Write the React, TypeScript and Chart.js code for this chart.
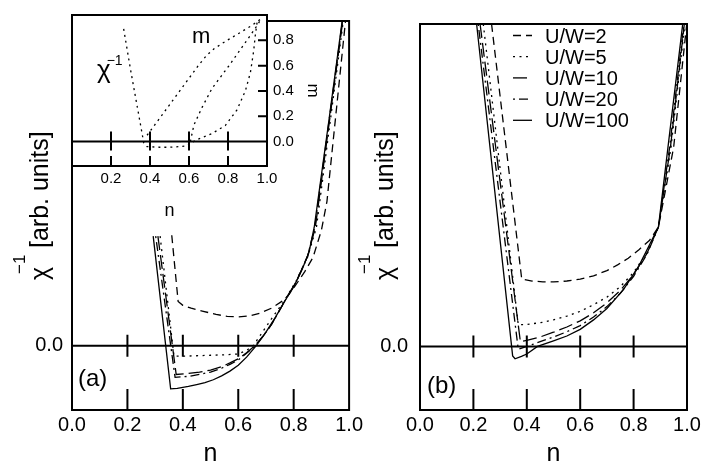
import React, { useEffect, useRef } from "react";
import { Chart, registerables } from "chart.js";

Chart.register(...registerables);

const FONT = "'Liberation Sans', Arial, Helvetica, sans-serif";

// ---------- labels / ticks ----------
const seriesLabels = ["U/W=2", "U/W=5", "U/W=10", "U/W=20", "U/W=100"];
const xTickValues = [0, 0.2, 0.4, 0.6, 0.8, 1.0];
const innerTickValues = [0.2, 0.4, 0.6, 0.8];
const yTickValues = [0];
const insetXTickValues = [0.2, 0.4, 0.6, 0.8, 1.0];
const insetMTickValues = [0, 0.2, 0.4, 0.6, 0.8];

// ---------- panel (a) ----------
const aU2n = [0.36, 0.383, 0.4, 0.43, 0.47, 0.52, 0.56, 0.6, 0.64, 0.68, 0.72, 0.767, 0.8, 0.84, 0.87, 0.9, 0.92, 0.987];
const aU2v = [1.15, 0.46, 0.42, 0.39, 0.36, 0.325, 0.305, 0.3, 0.31, 0.34, 0.39, 0.48, 0.6, 0.77, 0.92, 1.2, 1.5, 3.38];
const aU5n = [0.318, 0.368, 0.4, 0.45, 0.5, 0.55, 0.6, 0.63, 0.654, 0.68, 0.72, 0.767, 0.81, 0.85, 0.882, 0.979];
const aU5v = [1.14, -0.11, -0.11, -0.105, -0.1, -0.095, -0.087, -0.05, 0, 0.11, 0.28, 0.47, 0.68, 0.92, 1.23, 3.38];
const aU10n = [0.31, 0.376, 0.42, 0.46, 0.5, 0.54, 0.57, 0.6, 0.63, 0.66, 0.69, 0.72, 0.767, 0.81, 0.85, 0.878, 0.977];
const aU10v = [1.14, -0.3, -0.29, -0.275, -0.255, -0.22, -0.18, -0.137, -0.075, 0, 0.1, 0.22, 0.46, 0.67, 0.93, 1.23, 3.38];
const aU20n = [0.302, 0.372, 0.42, 0.46, 0.5, 0.54, 0.57, 0.6, 0.63, 0.662, 0.69, 0.72, 0.767, 0.81, 0.85, 0.876, 0.976];
const aU20v = [1.14, -0.33, -0.32, -0.3, -0.275, -0.235, -0.195, -0.15, -0.08, 0, 0.1, 0.22, 0.46, 0.67, 0.93, 1.23, 3.38];
const aU100n = [0.293, 0.356, 0.38, 0.42, 0.45, 0.48, 0.51, 0.54, 0.57, 0.6, 0.63, 0.665, 0.7, 0.735, 0.767, 0.8, 0.83, 0.855, 0.874, 0.925, 0.975];
const aU100v = [1.14, -0.45, -0.445, -0.425, -0.405, -0.385, -0.355, -0.315, -0.265, -0.205, -0.12, 0, 0.14, 0.3, 0.46, 0.61, 0.79, 0.97, 1.23, 2.3, 3.38];

// ---------- panel (b) ----------
const bU2n = [0.268, 0.381, 0.42, 0.46, 0.5, 0.55, 0.6, 0.65, 0.7, 0.74, 0.78, 0.82, 0.86, 0.893, 0.95, 0.999];
const bU2v = [3.4, 0.71, 0.69, 0.682, 0.68, 0.69, 0.71, 0.745, 0.8, 0.86, 0.93, 1.02, 1.12, 1.26, 2.1, 3.4];
const bU5n = [0.237, 0.368, 0.393, 0.45, 0.5, 0.55, 0.6, 0.65, 0.7, 0.75, 0.8, 0.85, 0.893, 0.94, 0.992];
const bU5v = [3.4, 0.23, 0.23, 0.25, 0.28, 0.32, 0.37, 0.44, 0.52, 0.63, 0.78, 0.99, 1.26, 2.1, 3.4];
const bU10n = [0.225, 0.376, 0.4, 0.45, 0.5, 0.55, 0.6, 0.65, 0.7, 0.75, 0.8, 0.85, 0.893, 0.938, 0.99];
const bU10v = [3.4, 0.05, 0.065, 0.1, 0.15, 0.205, 0.27, 0.355, 0.46, 0.59, 0.76, 0.98, 1.26, 2.1, 3.4];
const bU20n = [0.218, 0.368, 0.4, 0.45, 0.5, 0.55, 0.6, 0.65, 0.7, 0.75, 0.8, 0.85, 0.893, 0.935, 0.988];
const bU20v = [3.4, -0.03, 0.0, 0.05, 0.1, 0.155, 0.22, 0.31, 0.42, 0.56, 0.74, 0.97, 1.26, 2.1, 3.4];
const bU100n = [0.212, 0.347, 0.356, 0.38, 0.4, 0.44, 0.5, 0.55, 0.6, 0.65, 0.7, 0.762, 0.82, 0.875, 0.893, 0.93, 0.984];
const bU100v = [3.4, -0.1, -0.13, -0.105, -0.08, 0.0, 0.06, 0.11, 0.18, 0.28, 0.4, 0.6, 0.85, 1.16, 1.26, 2.13, 3.4];

// ---------- inset (U/W=5): chi^-1 and m ----------
const insChiN = [0.265, 0.3, 0.34, 0.368, 0.385, 0.45, 0.5, 0.55, 0.59, 0.612, 0.641, 0.718, 0.786, 0.846, 0.889, 0.915, 0.932, 0.94, 0.949];
const insChiV = [0.89, 0.57, 0.23, -0.01, -0.04, -0.045, -0.045, -0.04, -0.035, -0.01, 0.015, 0.064, 0.126, 0.25, 0.4, 0.546, 0.72, 0.84, 0.94];
const insMN = [0.385, 0.45, 0.5, 0.55, 0.6, 0.65, 0.69, 0.73, 0.78, 0.85, 0.92, 0.97];
const insMV = [0.05, 0.185, 0.29, 0.395, 0.5, 0.605, 0.68, 0.735, 0.785, 0.85, 0.915, 0.97];
const insM2N = [0.607, 0.625, 0.667, 0.718, 0.803, 0.906, 0.949, 0.972];
const insM2V = [0.0, 0.13, 0.27, 0.42, 0.595, 0.82, 0.916, 0.975];

// ---------- styles / layout ----------
const DASHES: number[][] = [[8, 5], [2, 4.5], [14, 5], [2, 4, 9, 4], []];
const LINE_W = 1.3;
const B_LEFT = 350;

const pts = (n: number[], v: number[]) => n.map((x, i) => ({ x, y: v[i] }));

function makeDatasets(ns: number[][], vs: number[][]) {
  return ns.map((n, i) => ({
    label: seriesLabels[i],
    data: pts(n, vs[i]),
    showLine: true,
    borderColor: "#000",
    backgroundColor: "#000",
    borderWidth: LINE_W,
    borderDash: DASHES[i],
    pointRadius: 0,
    fill: false,
    tension: 0,
  }));
}

function panelPlugin(cfg: {
  label: string; labelX: number; labelY: number; titleX: number; legendShift: number | null;
}) {
  return {
    id: "panelDecor",
    afterDatasetsDraw(chart: any) {
      const { ctx, chartArea: ca, scales } = chart;
      const xs = scales.x, ys = scales.y;
      const y0 = ys.getPixelForValue(0);
      ctx.save();
      ctx.strokeStyle = "#000";
      ctx.fillStyle = "#000";
      ctx.setLineDash([]);
      ctx.lineWidth = 2;
      ctx.beginPath();
      ctx.moveTo(ca.left, y0);
      ctx.lineTo(ca.right, y0);
      for (const v of innerTickValues) {
        const px = xs.getPixelForValue(v);
        ctx.moveTo(px, ca.bottom);
        ctx.lineTo(px, ca.bottom - 21);
        ctx.moveTo(px, y0 - 11);
        ctx.lineTo(px, y0 + 11);
      }
      ctx.stroke();
      ctx.strokeRect(ca.left, ca.top, ca.right - ca.left, ca.bottom - ca.top);

      // panel label
      ctx.font = `24px ${FONT}`;
      ctx.textBaseline = "middle";
      ctx.textAlign = "left";
      ctx.fillText(cfg.label, cfg.labelX, cfg.labelY);

      // y title  chi^-1 [arb. units]
      ctx.save();
      ctx.translate(cfg.titleX, 280);
      ctx.rotate(-Math.PI / 2);
      ctx.textBaseline = "alphabetic";
      ctx.font = `25px ${FONT}`;
      ctx.fillText("χ", 0, 0);
      ctx.font = `17px ${FONT}`;
      ctx.fillText("−1", 6, -23);
      ctx.font = `25px ${FONT}`;
      ctx.fillText("[arb. units]", 32, 0);
      ctx.restore();

      if (cfg.legendShift !== null) {
        const sh = cfg.legendShift;
        const x0 = 513 - sh, x1 = 532 - sh, tx = 545 - sh;
        chart.data.datasets.forEach((ds: any, i: number) => {
          const y = 37 + i * 21.2;
          ctx.lineWidth = LINE_W;
          ctx.setLineDash(ds.borderDash || []);
          ctx.beginPath();
          ctx.moveTo(x0, y - 1.5);
          ctx.lineTo(x1, y - 1.5);
          ctx.stroke();
          ctx.setLineDash([]);
          ctx.font = `20px ${FONT}`;
          ctx.textBaseline = "middle";
          ctx.fillText(ds.label, tx, y);
        });
      }
      ctx.restore();
    },
  };
}

function mainOptions(yMax: number, yWidth: number, yPad: number, padTop: number, padRight: number) {
  return {
    responsive: false,
    animation: false as const,
    events: [] as any[],
    layout: { padding: { left: 0, right: padRight, top: padTop, bottom: 0 } },
    plugins: { legend: { display: false }, tooltip: { enabled: false } },
    scales: {
      x: {
        type: "linear" as const,
        min: 0,
        max: 1,
        position: "bottom" as const,
        grid: { display: false, drawTicks: false },
        border: { display: false },
        afterBuildTicks: (s: any) => { s.ticks = xTickValues.map((v) => ({ value: v })); },
        ticks: {
          color: "#000",
          font: { family: FONT, size: 20 },
          padding: 3,
          maxRotation: 0,
          autoSkip: false,
          callback: (v: any) => Number(v).toFixed(1),
        },
        title: {
          display: true,
          text: "n",
          color: "#000",
          font: { family: FONT, size: 25, lineHeight: 0.8 },
          padding: { top: 0, bottom: 0 },
        },
        afterFit: (s: any) => { s.height = 54; },
      },
      y: {
        type: "linear" as const,
        min: -0.67,
        max: yMax,
        grid: { display: false, drawTicks: false },
        border: { display: false },
        afterBuildTicks: (s: any) => { s.ticks = yTickValues.map((v) => ({ value: v })); },
        ticks: {
          color: "#000",
          font: { family: FONT, size: 20 },
          padding: yPad,
          callback: (v: any) => Number(v).toFixed(1),
        },
        afterFit: (s: any) => { s.width = yWidth; },
      },
    },
  };
}

const insetPlugin = {
  id: "insetDecor",
  beforeDraw(chart: any) {
    const { ctx, chartArea: ca } = chart;
    ctx.save();
    ctx.fillStyle = "#fff";
    ctx.fillRect(ca.left, ca.top, ca.right - ca.left, ca.bottom - ca.top);
    ctx.restore();
  },
  afterDatasetsDraw(chart: any) {
    const { ctx, chartArea: ca, scales } = chart;
    const xs = scales.x, ys = scales.y;
    const y0 = ys.getPixelForValue(0);
    ctx.save();
    ctx.strokeStyle = "#000";
    ctx.fillStyle = "#000";
    ctx.setLineDash([]);
    ctx.lineWidth = 2;
    ctx.beginPath();
    ctx.moveTo(ca.left, y0);
    ctx.lineTo(ca.right, y0);
    for (const v of innerTickValues) {
      const px = xs.getPixelForValue(v);
      ctx.moveTo(px, ca.bottom);
      ctx.lineTo(px, ca.bottom - 10);
      ctx.moveTo(px, y0 - 10);
      ctx.lineTo(px, y0 + 9);
    }
    for (const m of insetMTickValues) {
      if (m === 0) continue;
      const py = ys.getPixelForValue(m);
      ctx.moveTo(ca.right, py);
      ctx.lineTo(ca.right - 9, py);
    }
    ctx.stroke();
    ctx.strokeRect(ca.left, ca.top, ca.right - ca.left, ca.bottom - ca.top);

    ctx.textAlign = "left";
    ctx.textBaseline = "alphabetic";
    ctx.font = `22px ${FONT}`;
    ctx.fillText("m", 192, 43);
    ctx.font = `26px ${FONT}`;
    ctx.fillText("χ", 97, 78);
    const w = ctx.measureText("χ").width;
    ctx.font = `14px ${FONT}`;
    ctx.fillText("−1", 97 + w - 4, 65);
    ctx.restore();
  },
};

export default function App() {
  const refA = useRef<HTMLCanvasElement>(null);
  const refB = useRef<HTMLCanvasElement>(null);
  const refI = useRef<HTMLCanvasElement>(null);

  useEffect(() => {
    const charts: Chart[] = [];
    if (refA.current) {
      charts.push(
        new Chart(refA.current, {
          type: "scatter",
          data: {
            datasets: makeDatasets(
              [aU2n, aU5n, aU10n, aU20n, aU100n],
              [aU2v, aU5v, aU10v, aU20v, aU100v]
            ) as any,
          },
          options: mainOptions(3.38, 72, 9, 5, 14) as any,
          plugins: [panelPlugin({ label: "(a)", labelX: 78, labelY: 379, titleX: 48, legendShift: null })],
        })
      );
    }
    if (refB.current) {
      charts.push(
        new Chart(refB.current, {
          type: "scatter",
          data: {
            datasets: makeDatasets(
              [bU2n, bU5n, bU10n, bU20n, bU100n],
              [bU2v, bU5v, bU10v, bU20v, bU100v]
            ) as any,
          },
          options: mainOptions(3.4, 420 - B_LEFT, 12, 3, 18) as any,
          plugins: [panelPlugin({ label: "(b)", labelX: 427 - B_LEFT, labelY: 386, titleX: 393 - B_LEFT, legendShift: B_LEFT })],
        })
      );
    }
    if (refI.current) {
      const dotted = (label: string, n: number[], v: number[]) => ({
        label,
        data: pts(n, v),
        showLine: true,
        borderColor: "#000",
        borderWidth: LINE_W,
        borderDash: [2, 4],
        pointRadius: 0,
        fill: false,
        tension: 0,
      });
      charts.push(
        new Chart(refI.current, {
          type: "scatter",
          data: {
            datasets: [
              dotted("χ⁻¹", insChiN, insChiV),
              dotted("m", insMN, insMV),
              dotted("m'", insM2N, insM2V),
            ] as any,
          },
          options: {
            responsive: false,
            animation: false,
            events: [],
            layout: { padding: { left: 72, right: 0, top: 5, bottom: 0 } },
            plugins: { legend: { display: false }, tooltip: { enabled: false } },
            scales: {
              x: {
                type: "linear",
                min: 0,
                max: 1,
                grid: { display: false, drawTicks: false },
                border: { display: false },
                afterBuildTicks: (s: any) => { s.ticks = insetXTickValues.map((v) => ({ value: v })); },
                ticks: {
                  color: "#000",
                  font: { family: FONT, size: 15 },
                  padding: 4,
                  maxRotation: 0,
                  autoSkip: false,
                  callback: (v: any) => Number(v).toFixed(1),
                },
                title: {
                  display: true,
                  text: "n",
                  color: "#000",
                  font: { family: FONT, size: 18, lineHeight: 1 },
                  padding: { top: 0, bottom: 5 },
                },
                afterFit: (s: any) => { s.height = 59; },
              },
              y: {
                type: "linear",
                position: "right",
                min: -0.193,
                max: 1.0,
                grid: { display: false, drawTicks: false },
                border: { display: false },
                afterBuildTicks: (s: any) => { s.ticks = insetMTickValues.map((v) => ({ value: v })); },
                ticks: {
                  color: "#000",
                  font: { family: FONT, size: 15 },
                  padding: 6,
                  callback: (v: any) => Number(v).toFixed(1),
                },
                title: {
                  display: true,
                  text: "m",
                  color: "#000",
                  font: { family: FONT, size: 17 },
                  padding: 7,
                },
                afterFit: (s: any) => { s.width = 63; },
              },
            },
          } as any,
          plugins: [insetPlugin],
        })
      );
    }
    return () => charts.forEach((c) => c.destroy());
  }, []);

  return (
    <div style={{ position: "absolute", left: 0, top: 0, width: 705, height: 464, background: "#fff" }}>
      <canvas ref={refA} width={366} height={464} style={{ position: "absolute", left: 0, top: 0, width: 366, height: 464 }} />
      <canvas ref={refB} width={705 - B_LEFT} height={464} style={{ position: "absolute", left: B_LEFT, top: 0, width: 705 - B_LEFT, height: 464 }} />
      <canvas ref={refI} width={330} height={225} style={{ position: "absolute", left: 0, top: 0, width: 330, height: 225 }} />
    </div>
  );
}
